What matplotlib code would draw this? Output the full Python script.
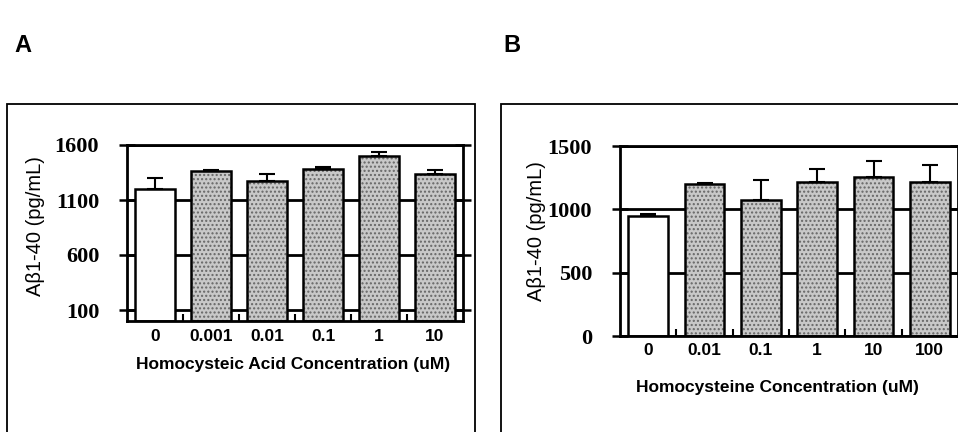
import numpy as np
import matplotlib
matplotlib.use("Agg")
import matplotlib.pyplot as plt
from matplotlib.patches import Rectangle

# panel A: homocysteic acid
conc_a = ["0", "0.001", "0.01", "0.1", "1", "10"]
abeta_a = [1200, 1364, 1275, 1382, 1500, 1336]
err_a = [100, 5, 64, 18, 36, 37]

# panel B: homocysteine
conc_b = ["0", "0.01", "0.1", "1", "10", "100"]
abeta_b = [950, 1198, 1071, 1213, 1258, 1213]
err_b = [12, 12, 161, 103, 126, 137]

serif = "Liberation Serif"
sans = "Liberation Sans"


def draw_panel(ax, labels, values, errs, ylim, yticks, xlabel,
               tick_pad, label_pad, xlabel_x, ylabel_xy):
    x = np.arange(len(labels))
    n = len(labels)
    for yt in yticks:
        ax.axhline(yt, color="black", lw=2, zorder=0)
    # stippled fill for treated groups, plain white for control
    faces = ["white"] + ["#c8c8c8"] * (n - 1)
    fill = ax.bar(x, values, width=0.71, color=faces, edgecolor="#666666",
                  linewidth=0, zorder=1)
    for b in fill[1:]:
        b.set_hatch("....")
    ax.bar(x, values, width=0.71, fill=False, edgecolor="black",
           linewidth=1.8, zorder=2)
    ax.errorbar(x, values, yerr=[np.zeros(n), errs], fmt="none",
                ecolor="black", elinewidth=1.5, capsize=6, capthick=1.5, zorder=3)
    ax.set_xlim(-0.5, n - 0.5)
    ax.set_ylim(*ylim)
    ax.set_yticks(yticks)
    ax.set_yticklabels([str(t) for t in yticks], fontfamily=serif,
                       fontweight="bold", fontsize=16)
    ax.set_xticks(x)
    ax.set_xticklabels(labels, fontfamily=sans, fontweight="bold", fontsize=12.5)
    ax.tick_params(axis="x", length=0, pad=tick_pad)
    ax.set_xticks(x[:-1] + 0.5, minor=True)
    ax.tick_params(axis="x", which="minor", direction="in", length=5, width=1.5)
    ax.tick_params(axis="y", direction="inout", length=12, width=1.8,
                   right=True, pad=14)
    for s in ax.spines.values():
        s.set_linewidth(2)
    ax.set_xlabel(xlabel, fontfamily=sans, fontweight="bold", fontsize=12.5,
                  labelpad=label_pad)
    ax.xaxis.label.set_x(xlabel_x)
    ax.set_ylabel("A\u03b21-40 (pg/mL)", fontfamily=sans, fontsize=14.5)
    ax.yaxis.set_label_coords(*ylabel_xy)


fig = plt.figure(figsize=(9.58, 4.32), dpi=100)

# outer frames of the two panels
fig.patches.append(Rectangle((7 / 958, -0.05), 468 / 958, 1.05 - 104 / 432,
                             transform=fig.transFigure, fill=False,
                             edgecolor="black", lw=1.3))
fig.patches.append(Rectangle((501 / 958, -0.05), 0.5, 1.05 - 104 / 432,
                             transform=fig.transFigure, fill=False,
                             edgecolor="black", lw=1.3))

fig.text(14 / 958, 1 - 45 / 432, "A", fontfamily=sans, fontweight="bold",
         fontsize=17, va="center")
fig.text(503 / 958, 1 - 45 / 432, "B", fontfamily=sans, fontweight="bold",
         fontsize=17, va="center")

ax_a = fig.add_axes([127 / 958, 1 - 321 / 432, 336 / 958, 176 / 432])
draw_panel(ax_a, conc_a, abeta_a, err_a, (0, 1600), [100, 600, 1100, 1600],
           "Homocysteic Acid Concentration (uM)", 6, 9, 0.494, (-0.243, 0.54))

ax_b = fig.add_axes([620 / 958, 1 - 336 / 432, 338 / 958, 190 / 432])
draw_panel(ax_b, conc_b, abeta_b, err_b, (0, 1500), [0, 500, 1000, 1500],
           "Homocysteine Concentration (uM)", 5, 16, 0.467, (-0.22, 0.55))

fig.savefig("out.png", dpi=100)
